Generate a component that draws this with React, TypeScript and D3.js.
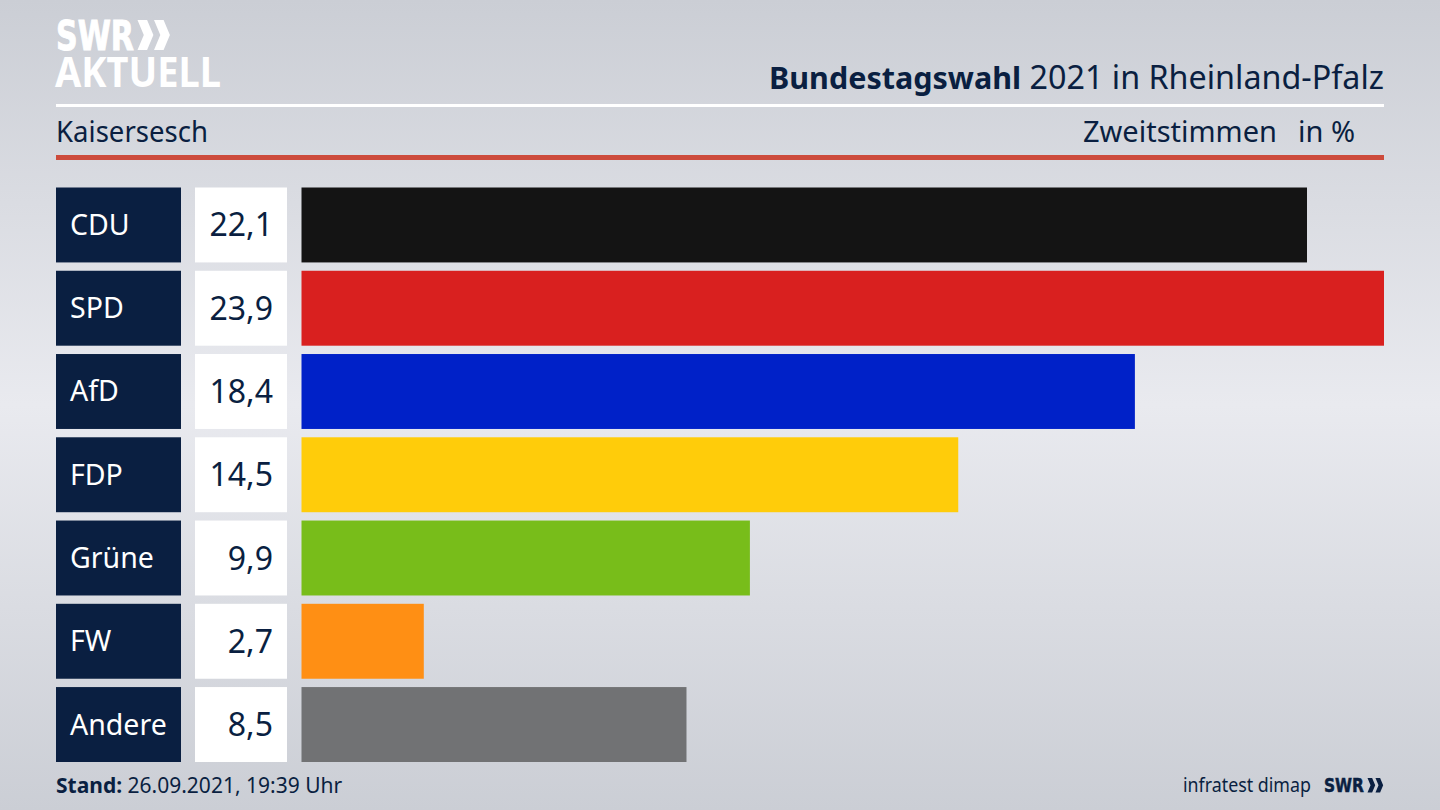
import * as d3 from "d3";
import React from "react";

const parties = ["CDU", "SPD", "AfD", "FDP", "Grüne", "FW", "Andere"];
// printed labels
const valueLabels = ["22,1", "23,9", "18,4", "14,5", "9,9", "2,7", "8,5"];
// (the CDU bar is a little longer than its label says)
const barValues = [22.2, 23.9, 18.4, 14.5, 9.9, 2.7, 8.5];
const barColors = ["#141414", "#d9201f", "#0021c8", "#ffcc0a", "#78bd1a", "#ff8f14", "#717274"];

const width = 1440;
const height = 810;
const left = 56;
const right = 1384;
const navy = "#0a1f41";
const font = "'Noto Sans', sans-serif";

// the two arrows of the SWR logo
const chevrons = (x: number, y: number, h: number) => {
  const w = h * 0.53;
  const t = h * 0.32;
  return [0, 0.55 * h].map(dx => {
    const x0 = x + dx;
    return `M${x0},${y}L${x0 + t},${y}L${x0 + w},${y + h / 2}L${x0 + t},${y + h}L${x0},${y + h}L${x0 + w - t},${y + h / 2}Z`;
  }).join("");
};

export default function App() {
  const x = d3.scaleLinear().domain([0, 23.9]).range([301.5, right]);
  const y = d3.scaleBand<string>().domain(parties).range([187.5, 762]).paddingInner(0.1);

  return (
    <svg width={width} height={height} style={{ position: "absolute", left: 0, top: 0 }} fontFamily={font}>
      <defs>
        <linearGradient id="bg" x1="0" y1="0" x2="0" y2="1">
          <stop offset="0" stopColor="#cbced5" />
          <stop offset="0.5" stopColor="#e9eaef" />
          <stop offset="1" stopColor="#cbced5" />
        </linearGradient>
      </defs>
      <rect width={width} height={height} fill="url(#bg)" />

      {/* logo */}
      <text x={56} y={50} fontFamily="'DejaVu Sans', sans-serif" fontWeight="bold" fontSize={41} fill="#fff" stroke="#fff" strokeWidth={1} textLength={78} lengthAdjust="spacingAndGlyphs">SWR</text>
      <path d={chevrons(137.5, 20, 30)} fill="#fff" />
      <text x={55} y={87} fontWeight="bold" fontSize={41} fill="#fff" textLength={166} lengthAdjust="spacingAndGlyphs">AKTUELL</text>

      <text x={right} y={89} textAnchor="end" fontSize={32.3} fill={navy}>
        <tspan fontWeight="bold" fontSize={30.5}>Bundestagswahl</tspan> 2021 in Rheinland-Pfalz
      </text>
      <rect x={left} y={104} width={right - left} height={3} fill="#fff" />
      <text x={left} y={142} fontSize={29} fill={navy} textLength={152} lengthAdjust="spacingAndGlyphs">Kaisersesch</text>
      <text x={1277} y={142} textAnchor="end" fontSize={29} fill={navy}>Zweitstimmen</text>
      <text x={1355} y={142} textAnchor="end" fontSize={29} fill={navy}>in %</text>
      <rect x={left} y={155} width={right - left} height={5} fill="#cd4b3c" />

      {parties.map((p, i) => {
        const top = y(p)!;
        const h = y.bandwidth();
        return (
          <g key={p}>
            <rect x={left} y={top} width={125} height={h} fill={navy} />
            <text x={70} y={top + h / 2 + 10} fontSize={28.5} fill="#fff">{p}</text>
            <rect x={195} y={top} width={92} height={h} fill="#fff" />
            <text x={273} y={top + h / 2 + 11.5} textAnchor="end" fontSize={32} fill={navy}>{valueLabels[i]}</text>
            <rect x={x(0)} y={top} width={x(barValues[i]) - x(0)} height={h} fill={barColors[i]} />
          </g>
        );
      })}

      <text x={left} y={793} fontSize={21} fill={navy}>
        <tspan fontWeight="bold">Stand:</tspan> 26.09.2021, 19:39 Uhr
      </text>
      <text x={1183} y={792} fontSize={20} fill={navy} textLength={128} lengthAdjust="spacingAndGlyphs">infratest dimap</text>
      <text x={1324} y={792} fontFamily="'DejaVu Sans', sans-serif" fontWeight="bold" fontSize={19} fill={navy} stroke={navy} strokeWidth={0.5} textLength={40} lengthAdjust="spacingAndGlyphs">SWR</text>
      <path d={chevrons(1367.5, 778, 14.5)} fill={navy} />
    </svg>
  );
}
